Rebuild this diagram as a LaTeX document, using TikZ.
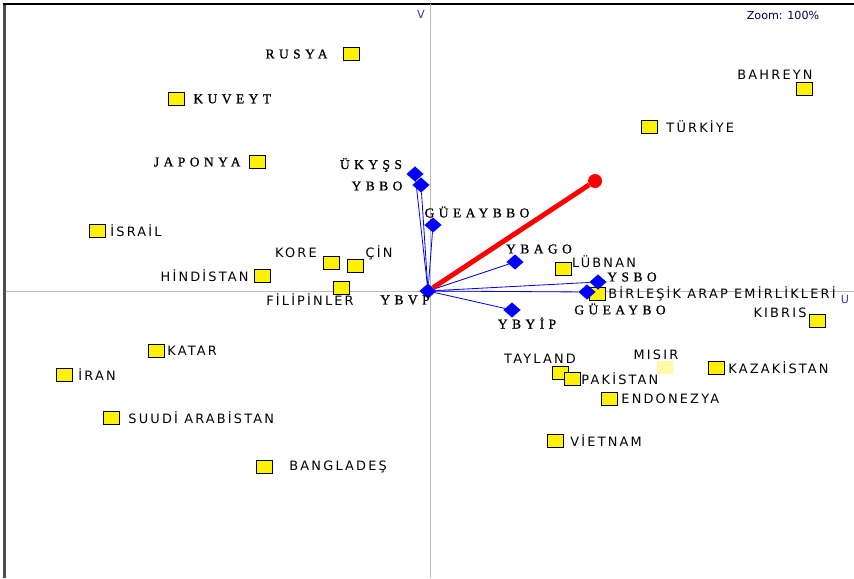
\documentclass[tikz,border=0pt]{standalone}
\usepackage{fontspec}
\setmainfont{DejaVu Sans}
\newfontfamily\ctryfont[LetterSpace=17]{DejaVu Sans}
\newfontfamily\varfont[LetterSpace=33, FakeBold=1]{Liberation Serif}
\usepackage{tikz}
\usetikzlibrary{positioning, shapes.geometric}

\begin{document}
\begin{tikzpicture}[x=0.03cm, y=-0.03cm,
  ctrybox/.style={rectangle, draw=black, fill=yellow, minimum width=0.48cm, minimum height=0.39cm, inner sep=0},
  varmark/.style={diamond, fill=blue, inner sep=0, minimum width=0.52cm, minimum height=0.46cm},
  ctext/.style={inner sep=0, font=\ctryfont\fontsize{11}{12}\selectfont},
  vtext/.style={inner sep=0, font=\varfont\fontsize{11.5}{12}\selectfont},
  axtext/.style={font=\fontsize{9.5}{10}\selectfont, text=blue!60!gray},
  axis/.style={gray!55, line width=0.8pt},
  vline/.style={blue, line width=0.7pt},
  tline/.style={red, line width=4.2pt}
]

% Frame and axes
\useasboundingbox (0,0) rectangle (854,578);
\draw[gray!60!black, line width=2.5pt] (4.5,4) -- (4.5,578);
\draw[black, line width=0.9pt] (3,4) -- (854,4);
\draw[axis] (430,4) -- (430,578);
\draw[axis] (6,291) -- (854,291);
\node[axtext] (vaxis) at (421,14) {V};
\node[axtext] (uaxis) at (845,300) {U};
\node[font=\fontsize{9.5}{10}\selectfont, text=blue!30!black] (zoom) at (783,15) {Zoom: 100\%};

% Countries
\node[ctrybox] (rusya) at (351,54) {};
\node[vtext, left=0.45cm of rusya] (rusya_l) {RUSYA};
\node[ctrybox] (kuveyt) at (176,99) {};
\node[vtext, right=0.27cm of kuveyt] (kuveyt_l) {KUVEYT};
\node[ctrybox] (japonya) at (257,162) {};
\node[vtext, left=0.24cm of japonya] (japonya_l) {JAPONYA};
\node[ctrybox] (israil) at (97,231) {};
\node[ctext, right=0.15cm of israil] (israil_l) {İSRAİL};
\node[ctrybox] (kore) at (331,263) {};
\node[ctext] (kore_l) at (296,253) {KORE};
\node[ctrybox] (cin) at (355,266) {};
\node[ctext] (cin_l) at (379,253) {ÇİN};
\node[ctrybox] (hindistan) at (262,276) {};
\node[ctext, left=0.15cm of hindistan] (hindistan_l) {HİNDİSTAN};
\node[ctrybox] (filipinler) at (341,288) {};
\node[ctext] (filipinler_l) at (310,300) {FİLİPİNLER};
\node[ctrybox] (lubnan) at (563,269) {};
\node[ctext] (lubnan_l) at (604,262) {LÜBNAN};
\node[ctrybox] (bae) at (597,294) {};
\node[ctext, right=0.09cm of bae] (bae_l) {BİRLEŞİK ARAP EMİRLİKLERİ};
\node[ctrybox] (kibris) at (817,321) {};
\node[ctext] (kibris_l) at (780,313) {KIBRIS};
\node[ctrybox] (tayland) at (560,373) {};
\node[ctext] (tayland_l) at (540,359) {TAYLAND};
\node[ctrybox] (pakistan) at (572,379) {};
\node[ctext, right=0.03cm of pakistan] (pakistan_l) {PAKİSTAN};
\node[ctrybox, fill=yellow!35, draw=none] (misir) at (665,367) {};
\node[ctext] (misir_l) at (656,355) {MISIR};
\node[ctrybox] (kazakistan) at (716,368) {};
\node[ctext, right=0.12cm of kazakistan] (kazakistan_l) {KAZAKİSTAN};
\node[ctrybox] (endonezya) at (609,399) {};
\node[ctext, right=0.12cm of endonezya] (endonezya_l) {ENDONEZYA};
\node[ctrybox] (vietnam) at (555,441) {};
\node[ctext, right=0.21cm of vietnam] (vietnam_l) {VİETNAM};
\node[ctrybox] (bahreyn) at (804,89) {};
\node[ctext] (bahreyn_l) at (775,75) {BAHREYN};
\node[ctrybox] (turkiye) at (649,127) {};
\node[ctext, right=0.27cm of turkiye] (turkiye_l) {TÜRKİYE};
\node[ctrybox] (katar) at (156,351) {};
\node[ctext, right=0.09cm of katar] (katar_l) {KATAR};
\node[ctrybox] (iran) at (64,375) {};
\node[ctext, right=0.18cm of iran] (iran_l) {İRAN};
\node[ctrybox] (suudi) at (111,418) {};
\node[ctext, right=0.27cm of suudi] (suudi_l) {SUUDİ ARABİSTAN};
\node[ctrybox] (banglades) at (264,467) {};
\node[ctext, right=0.51cm of banglades] (banglades_l) {BANGLADEŞ};

% Variables
\node[varmark] (ybvp) at (428,291) {};
\node[vtext] (ybvp_l) at (405,300) {YBVP};
\node[varmark] (ukyss) at (415,174) {};
\node[vtext] (ukyss_l) at (371,165) {ÜKYŞS};
\node[varmark] (ybbo) at (421,185) {};
\node[vtext] (ybbo_l) at (377,186) {YBBO};
\node[varmark] (gueaybbo) at (433,225) {};
\node[vtext] (gueaybbo_l) at (477,212) {GÜEAYBBO};
\node[varmark] (ybago) at (515,262) {};
\node[vtext] (ybago_l) at (539,249) {YBAGO};
\node[varmark] (ysbo) at (598,282) {};
\node[vtext] (ysbo_l) at (632,277) {YSBO};
\node[varmark] (gueaybo) at (587,292) {};
\node[vtext] (gueaybo_l) at (620,309) {GÜEAYBO};
\node[varmark] (ybyip) at (512,310) {};
\node[vtext] (ybyip_l) at (527,323) {YBYİP};
\node[circle, fill=red, inner sep=0, minimum size=0.42cm] (target) at (595,181) {};

% Vectors
\draw[vline] (ybvp) -- (ukyss);
\draw[vline] (ybvp) -- (ybbo);
\draw[vline] (ybvp) -- (gueaybbo);
\draw[vline] (ybvp) -- (ybago);
\draw[vline] (ybvp) -- (ysbo);
\draw[vline] (ybvp) -- (gueaybo);
\draw[vline] (ybvp) -- (ybyip);
\draw[tline] (ybvp) -- (target);

\end{tikzpicture}
\end{document}
